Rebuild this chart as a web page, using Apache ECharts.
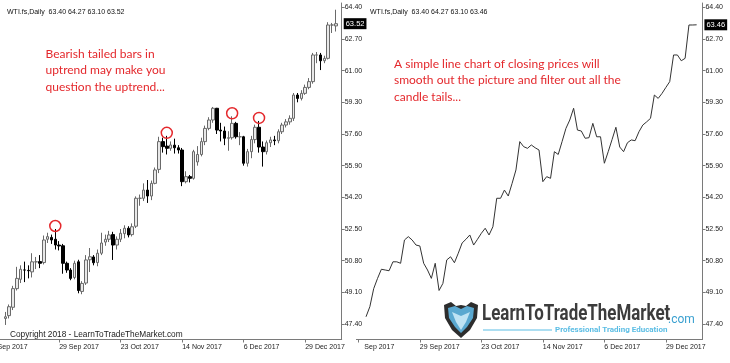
<!DOCTYPE html>
<html><head><meta charset="utf-8">
<script src="https://cdn.jsdelivr.net/npm/echarts@6/dist/echarts.min.js"></script>
<style>html,body{margin:0;padding:0;background:#fff}#c{width:730px;height:363px}</style>
</head><body><div id="c"></div>
<script>
const categories = [
'2017-09-07','2017-09-08','2017-09-11','2017-09-12','2017-09-13','2017-09-14','2017-09-15','2017-09-18','2017-09-19','2017-09-20',
'2017-09-21','2017-09-22','2017-09-25','2017-09-26','2017-09-27','2017-09-28','2017-09-29','2017-10-02','2017-10-03','2017-10-04',
'2017-10-05','2017-10-06','2017-10-09','2017-10-10','2017-10-11','2017-10-12','2017-10-13','2017-10-16','2017-10-17','2017-10-18',
'2017-10-19','2017-10-20','2017-10-23','2017-10-24','2017-10-25','2017-10-26','2017-10-27','2017-10-30','2017-10-31','2017-11-01',
'2017-11-02','2017-11-03','2017-11-06','2017-11-07','2017-11-08','2017-11-09','2017-11-10','2017-11-13','2017-11-14','2017-11-15',
'2017-11-16','2017-11-17','2017-11-20','2017-11-21','2017-11-22','2017-11-23','2017-11-24','2017-11-27','2017-11-28','2017-11-29',
'2017-11-30','2017-12-01','2017-12-04','2017-12-05','2017-12-06','2017-12-07','2017-12-08','2017-12-11','2017-12-12','2017-12-13',
'2017-12-14','2017-12-15','2017-12-18','2017-12-19','2017-12-20','2017-12-21','2017-12-22','2017-12-26','2017-12-27','2017-12-28',
'2017-12-29','2018-01-02','2018-01-03','2018-01-04','2018-01-05','2018-01-08','2018-01-09','2018-01-10','2018-01-11','2018-01-12'];
const firstBarDate = '2017-09-11';
const opens = [47.70,47.85,48.30,49.30,49.80,50.30,50.28,50.20,50.74,50.75,50.70,51.95,52.05,51.95,51.64,51.60,50.66,50.30,49.90,50.74,
49.15,49.60,50.85,51.00,50.70,51.20,51.80,51.95,52.20,51.64,51.95,52.25,52.54,52.20,52.65,54.15,54.15,54.59,54.27,54.95,
55.70,57.19,56.95,56.83,57.00,56.86,56.74,55.04,55.31,55.22,56.10,56.50,57.19,57.90,58.35,58.98,57.81,57.76,57.37,57.40,
58.17,57.45,57.45,56.03,56.65,57.30,57.96,56.90,56.65,57.13,57.28,57.24,57.72,58.08,58.25,58.44,59.69,59.51,59.78,60.10,
60.41,61.84,61.84,61.53,61.66,63.45,63.40];
const closes = [47.79,48.33,49.30,49.85,50.34,50.30,50.26,50.74,50.74,50.66,51.91,52.09,51.91,51.64,51.59,50.66,50.30,49.85,50.66,49.20,
49.58,50.84,51.01,50.69,51.20,51.75,51.95,52.18,51.64,51.95,52.27,52.54,52.18,52.62,54.15,54.15,54.59,54.27,54.95,55.67,
57.19,56.92,56.83,57.01,56.86,56.74,55.04,55.31,55.22,56.65,56.50,57.19,57.90,58.35,58.98,57.81,57.76,57.37,57.40,58.17,
57.45,57.45,56.03,56.65,57.30,57.96,56.90,56.65,57.13,57.28,57.24,57.72,58.08,58.25,58.44,59.69,59.51,59.78,60.10,60.41,
61.84,61.84,61.53,61.66,63.45,63.45,63.52];
const lows = [47.35,47.70,48.15,49.20,49.60,49.65,49.85,49.90,50.35,50.40,50.60,51.75,51.70,51.40,51.35,50.10,50.15,49.75,49.80,49.05,
49.00,49.50,50.19,50.55,50.50,51.10,51.60,51.80,50.84,51.40,51.80,52.00,52.05,52.10,52.55,53.75,54.00,53.90,54.05,54.90,
55.50,56.60,56.50,56.70,56.55,56.55,54.80,54.95,55.00,55.15,55.90,56.40,57.00,57.80,58.20,57.60,57.20,57.00,56.70,57.30,
57.35,57.00,55.90,55.85,56.30,57.10,56.60,55.85,56.50,56.90,57.00,57.10,57.60,57.95,58.10,58.30,59.30,59.40,59.70,60.00,
60.30,61.40,61.03,61.40,61.60,63.02,63.10];
const highs = [48.05,48.45,49.45,50.47,50.55,50.75,50.55,51.20,51.00,51.10,52.15,52.30,52.20,52.50,51.85,51.70,50.75,50.40,50.80,50.85,
49.70,51.10,51.48,51.10,51.40,52.30,52.20,52.40,52.35,52.10,52.50,52.70,52.65,52.80,54.25,54.35,54.95,55.13,55.10,55.80,
57.45,57.40,57.50,57.20,57.35,57.00,56.85,55.60,55.40,56.75,56.95,57.40,58.05,58.50,59.05,59.00,58.20,58.00,57.75,58.55,
58.25,57.70,57.50,56.80,57.50,58.10,58.30,57.20,57.25,57.45,57.50,57.85,58.20,58.40,58.60,59.80,59.80,59.95,60.25,60.60,
61.95,62.00,61.95,61.80,63.60,63.56,64.27];
const lastLineClose = 63.46;
const tickDates = ['2017-09-07','2017-09-29','2017-10-23','2017-11-14','2017-12-06','2017-12-29'];
const tickLabels = ['Sep 2017','29 Sep 2017','23 Oct 2017','14 Nov 2017','6 Dec 2017','29 Dec 2017'];
const yTicks = [47.40,49.10,50.80,52.50,54.20,55.90,57.60,59.30,61.00,62.70,64.40];
const circledDates = ['2017-09-28','2017-11-08','2017-12-01','2017-12-12'];
const headerLeft = 'WTI.fs,Daily  63.40 64.27 63.10 63.52';
const headerRight = 'WTI.fs,Daily  63.40 64.27 63.10 63.46';
const noteLeft = ['Bearish tailed bars in','uptrend may make you','question the uptrend...'];
const noteRight = ['A simple line chart of closing prices will','smooth out the picture and filter out all the','candle tails...'];
const copyrightText = 'Copyright 2018 - LearnToTradeTheMarket.com';

const first = categories.indexOf(firstBarDate);
const lineCloses = closes.slice(0, -1).concat([lastLineClose]);
const candleData = categories.map((d, i) => { const k = i - first; return (k >= 0 && k < closes.length) ? [opens[k], closes[k], lows[k], highs[k]] : '-'; });
const lineData = categories.map((d, i) => { const k = i - first; return (k >= 0 && k < lineCloses.length) ? lineCloses[k] : '-'; });
const circles = circledDates.map(d => ({ coord: [d, highs[categories.indexOf(d) - first]] }));

const FONT = "'Liberation Sans', Arial, sans-serif";
const RED = '#e4282c';
const AXIS = '#7a7a7a';
const isTick = (i, v) => tickDates.indexOf(v) >= 0;

function makeX(gi, padFirst) {
  return {
    type: 'category', gridIndex: gi, data: categories, boundaryGap: true,
    axisLine: { show: true, lineStyle: { color: AXIS, width: 1 } },
    axisTick: { show: true, interval: isTick, alignWithLabel: true, length: 3, lineStyle: { color: AXIS } },
    axisLabel: {
      interval: isTick, align: 'left', margin: 4, fontSize: 7, color: '#222', fontFamily: FONT,
      formatter: (v) => { const t = tickLabels[tickDates.indexOf(v)]; return (padFirst && v === tickDates[0]) ? '{p|' + t + '}' : t; },
      rich: { p: { padding: [0, 0, 0, 6], fontSize: 7, color: '#222', fontFamily: FONT } }
    },
    splitLine: { show: false }
  };
}
function makeY(gi) {
  return {
    type: 'value', gridIndex: gi, position: 'right', min: 46.57, max: 64.63, scale: true,
    axisLine: { show: true, lineStyle: { color: AXIS, width: 1 } },
    axisTick: { show: true, customValues: yTicks, length: 3, lineStyle: { color: AXIS } },
    axisLabel: { customValues: yTicks, margin: 3, fontSize: 7, color: '#222', fontFamily: FONT, formatter: v => v.toFixed(2) },
    splitLine: { show: false }
  };
}
const priceLabel = (v) => ({
  silent: true, symbol: ['none', 'none'], lineStyle: { color: 'rgba(0,0,0,0)', width: 0 },
  label: { show: true, position: 'end', distance: 2, formatter: v.toFixed(2), backgroundColor: '#000', color: '#fff', fontSize: 7.5, fontFamily: FONT, padding: [2, 2, 1, 2] },
  data: [{ yAxis: v }]
});

const chart = echarts.init(document.getElementById('c'), null, { renderer: 'canvas' });
chart.setOption({
  animation: false,
  backgroundColor: '#fff',
  grid: [
    { left: -4.3, top: 3, width: 346, height: 336.5, outerBoundsMode: 'none', containLabel: false },
    { left: 356.4, top: 3, width: 346, height: 336.5, outerBoundsMode: 'none', containLabel: false }
  ],
  xAxis: [makeX(0, false), makeX(1, true)],
  yAxis: [makeY(0), makeY(1)],
  series: [
    {
      type: 'candlestick', xAxisIndex: 0, yAxisIndex: 0, data: candleData, barWidth: 3,
      itemStyle: { color: '#e8e8e8', color0: '#000000', borderColor: '#6a6a6a', borderColor0: '#000000', borderWidth: 1 },
      markPoint: {
        symbol: 'circle', symbolSize: 11, symbolOffset: [0, -3], silent: true,
        itemStyle: { color: 'rgba(0,0,0,0)', borderColor: RED, borderWidth: 1.5 },
        label: { show: false },
        data: circles
      },
      markLine: priceLabel(closes[closes.length - 1])
    },
    {
      type: 'line', xAxisIndex: 1, yAxisIndex: 1, data: lineData, showSymbol: false, symbol: 'none',
      lineStyle: { color: '#333', width: 1 },
      markLine: priceLabel(lastLineClose)
    }
  ],
  graphic: [
    { type: 'text', x: 7, y: 12, style: { text: headerLeft, fill: '#111', font: '7px ' + FONT, verticalAlign: 'middle' } },
    { type: 'text', x: 370, y: 12, style: { text: headerRight, fill: '#111', font: '7px ' + FONT, verticalAlign: 'middle' } },
    { type: 'text', x: 45.5, y: 46, style: { text: noteLeft.join('\n'), fill: RED, font: '12px Lato', lineHeight: 16.3, verticalAlign: 'top' } },
    { type: 'text', x: 394, y: 56, style: { text: noteRight.join('\n'), fill: RED, font: '12px Lato', lineHeight: 16.3, verticalAlign: 'top' } },
    { type: 'text', x: 10, y: 334.5, style: { text: copyrightText, fill: '#222', font: '8.3px ' + FONT, verticalAlign: 'middle' } },
    { type: 'polygon', shape: { points: [[444,305],[451,302],[456,306],[461,305],[466,306],[471,302],[478,305],[477,318],[470,330],[461,338],[452,330],[445,318]] }, style: { fill: '#2d2d2d' } },
    { type: 'polygon', shape: { points: [[448,308],[455,306],[461,309],[467,306],[474,308],[473,318],[467,327],[461,333],[455,327],[449,318]] }, style: { fill: '#5aa8d0' } },
    { type: 'polygon', shape: { points: [[452,312],[461,316],[470,312],[466,322],[461,330],[456,322]] }, style: { fill: '#bfe3f4' } },
    { type: 'text', x: 482, y: 325, scaleX: 0.77, style: { text: 'LearnToTradeTheMarket', fill: '#3c3c3c', font: 'bold 22px Roboto', verticalAlign: 'bottom' } },
    { type: 'text', x: 668, y: 326, style: { text: '.com', fill: '#3aa0d0', font: '12px Roboto', verticalAlign: 'bottom' } },
    { type: 'line', shape: { x1: 483, y1: 330, x2: 552, y2: 330 }, style: { stroke: '#5bbde4', lineWidth: 1 } },
    { type: 'text', x: 555, y: 330, style: { text: 'Professional Trading Education', fill: '#5bbde4', font: 'bold 8px Roboto', verticalAlign: 'middle' } }
  ]
});
</script></body></html>
